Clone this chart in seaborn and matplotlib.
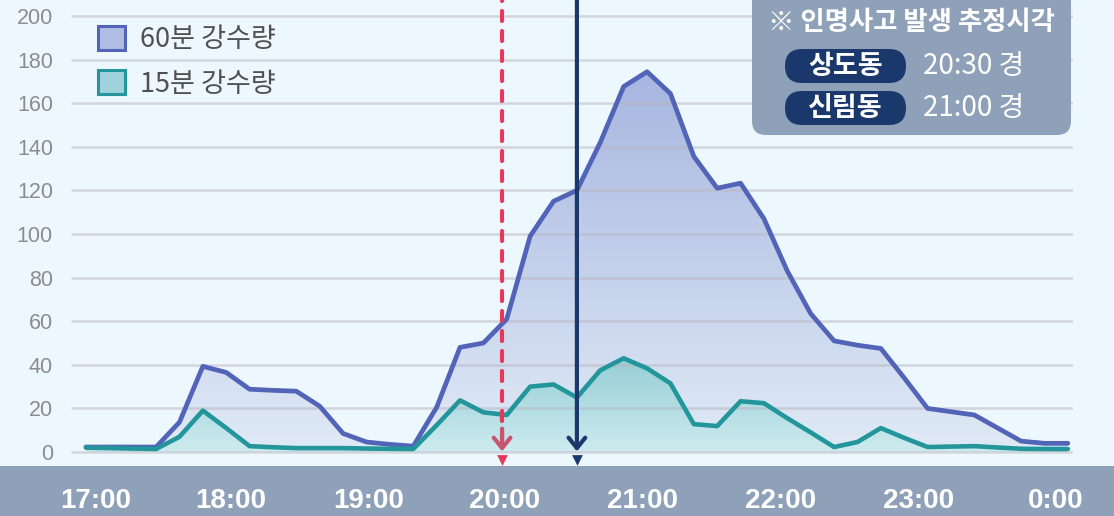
import numpy as np
import pandas as pd
import matplotlib
matplotlib.use('Agg')
from matplotlib import pyplot as plt
from matplotlib.patches import FancyBboxPatch, Patch, Rectangle
from matplotlib.colors import LinearSegmentedColormap
import seaborn as sns

# 10분 간격 관측값 (17:00 ~ 24:00)
steps = np.arange(43)
rain_60 = [2.3, 2.3, 2.3, 2.3, 13.7, 39.3, 36.5, 28.8, 28.3, 27.9,
           21.0, 8.5, 4.6, 3.5, 2.7, 20.5, 48.0, 50.0, 61.0, 99.0,
           115.0, 120.0, 142.0, 167.6, 174.4, 164.4, 135.6, 121.0, 123.3, 107.0,
           83.0, 63.5, 51.0, 49.0, 47.5, 34.0, 20.0, 18.5, 17.0, 11.0,
           5.0, 4.0, 4.0]
rain_15 = [2.0, 1.8, 1.6, 1.4, 7.0, 19.0, 11.0, 2.7, 2.2, 1.8,
           1.8, 1.8, 1.6, 1.5, 1.4, 12.3, 23.7, 18.2, 17.0, 30.0,
           31.0, 25.0, 37.5, 43.0, 38.4, 31.5, 12.8, 11.9, 23.3, 22.4,
           15.5, 9.0, 2.3, 4.6, 11.0, 6.5, 2.3, 2.5, 2.7, 2.1,
           1.5, 1.4, 1.4]
series_names = ['60분 강수량', '15분 강수량']
hour_labels = ['17:00', '18:00', '19:00', '20:00', '21:00', '22:00', '23:00', '0:00']
hour_pos = [0.4, 6.2, 12.1, 17.9, 23.8, 29.7, 35.6, 41.5]
y_ticks = list(range(0, 201, 20))
box_title = '※ 인명사고 발생 추정시각'
event_places = ['상도동', '신림동']
event_times = ['20:30 경', '21:00 경']
event_pos = [17.8, 21.0]

# 색상
bg = '#EDF8FE'
band = '#8EA1B9'
navy = '#1B386D'
c60 = '#5264B8'
c15 = '#23969B'
red = '#E5385B'

df = pd.DataFrame({'step': steps, 'r60': rain_60, 'r15': rain_15})

sns.set_style('white')
plt.rcParams['font.family'] = ['Noto Sans CJK KR', 'DejaVu Sans']

fig = plt.figure(figsize=(11.14, 5.16), dpi=100)
fig.patch.set_facecolor(bg)
ax = fig.add_axes([71 / 1114, 50 / 516, (1073 - 71) / 1114, 466 / 516])
ax.set_facecolor(bg)

xlim = (-0.64, 42.22)
ylim = (-6.4, 207.3)


def gradient_fill(x, y, c_top, c_bottom, z):
    poly = ax.fill_between(x, y, 0, color='none', lw=0)
    path = poly.get_paths()[0]
    cmap = LinearSegmentedColormap.from_list('g', [c_bottom, c_top])
    grad = np.linspace(0, 1, 256).reshape(-1, 1)
    im = ax.imshow(grad, cmap=cmap, aspect='auto', origin='lower',
                   extent=[x[0], x[-1], 0, max(y)], zorder=z)
    im.set_clip_path(path, ax.transData)


gradient_fill(df['step'].values, df['r60'].values, '#A7B6E0', '#E0EAF6', 1)
gradient_fill(df['step'].values, df['r15'].values, '#96CED6', '#CDEBEF', 2)

# 가로 보조선
ax.hlines(y_ticks, xlim[0], xlim[1], color='#B8B4BC', alpha=0.5, lw=1.8, zorder=2.5)

sns.lineplot(data=df, x='step', y='r60', ax=ax, color=c60, lw=3.4, zorder=3)
sns.lineplot(data=df, x='step', y='r15', ax=ax, color=c15, lw=3.3, zorder=4)

# 사고 시각 표시선
ax.vlines(event_pos[0], 5, ylim[1], color=red, lw=3, linestyles=(0, (2.4, 2.4)),
          capstyle='round', zorder=6)
ax.annotate('', xy=(event_pos[1], -1), xytext=(event_pos[1], ylim[1] + 2),
            arrowprops=dict(arrowstyle='->,head_length=0.75,head_width=0.6', color=navy, lw=3),
            zorder=6)
ax.annotate('', xy=(event_pos[0], -1), xytext=(event_pos[0], 12),
            arrowprops=dict(arrowstyle='->,head_length=0.75,head_width=0.6', color='#C6566E', lw=3),
            zorder=6)
ax.scatter([event_pos[0]], [-3.8], marker='v', s=60, color=red, lw=0, zorder=7)
ax.scatter([event_pos[1]], [-3.8], marker='v', s=60, color=navy, lw=0, zorder=7)

ax.set_xlim(*xlim)
ax.set_ylim(*ylim)
ax.set_xlabel('')
ax.set_ylabel('')
ax.set_yticks(y_ticks)
ax.set_xticks(hour_pos, hour_labels)
ax.tick_params(axis='y', length=0, pad=13, labelcolor='#8C8C8C', labelsize=15.5)
ax.tick_params(axis='x', length=0, pad=16, labelcolor='white', labelsize=20)
for t in ax.get_yticklabels():
    t.set_family(['Liberation Sans', 'DejaVu Sans'])
for t in ax.get_xticklabels():
    t.set_family(['Liberation Sans', 'DejaVu Sans'])
    t.set_weight('bold')
sns.despine(ax=ax, left=True, bottom=True)

# 하단 시간 띠
fig.add_artist(Rectangle((0, 0), 1, 50 / 516, transform=fig.transFigure,
                         color=band, lw=0, zorder=-1))

# 범례
handles = [Patch(facecolor='#AFBDE3', edgecolor=c60, lw=2.2),
           Patch(facecolor='#9FD2DA', edgecolor=c15, lw=2.2)]
ax.legend(handles, series_names, loc='upper left', bbox_to_anchor=(98 / 1114, 1 - 26 / 516),
          bbox_transform=fig.transFigure, frameon=False, fontsize=19.5, labelcolor='#505050',
          handlelength=1.0, handleheight=1.0, handletextpad=0.55, labelspacing=0.62,
          borderpad=0, borderaxespad=0)

# 추정시각 박스
tr = fig.dpi_scale_trans
fig.add_artist(FancyBboxPatch((7.52, 3.81), 3.19, 1.6, boxstyle='round,pad=0,rounding_size=0.14',
                              transform=tr, facecolor=band, edgecolor='none', zorder=5))
fig.text(9.11, 4.93, box_title, transform=tr, ha='center', va='center', color='white',
         fontsize=19, fontweight='bold', zorder=6)
for i, (place, when) in enumerate(zip(event_places, event_times)):
    yc = 4.50 - i * 0.42
    fig.add_artist(FancyBboxPatch((7.85, yc - 0.17), 1.21, 0.34,
                                  boxstyle='round,pad=0,rounding_size=0.17',
                                  transform=tr, facecolor=navy, edgecolor='none', zorder=6))
    fig.text(8.455, yc, place, transform=tr, ha='center', va='center', color='white',
             fontsize=19.5, fontweight='bold', zorder=7)
    fig.text(9.23, yc, when, transform=tr, ha='left', va='center', color='white',
             fontsize=20, zorder=7)

plt.savefig('out.png', dpi=100, facecolor=bg)
